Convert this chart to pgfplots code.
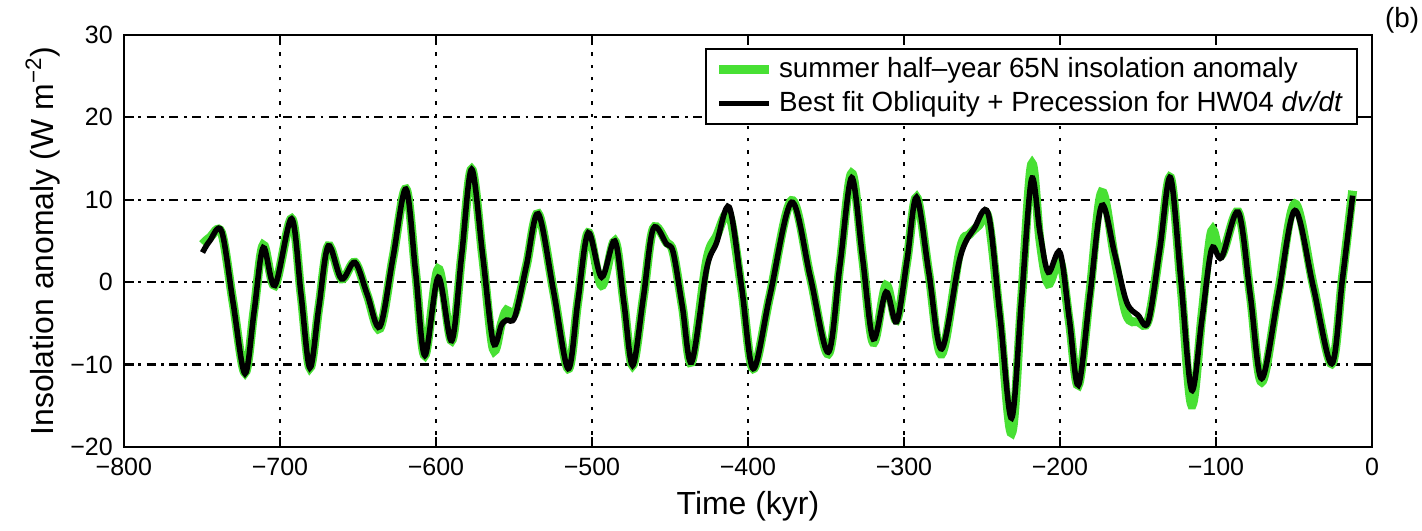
\documentclass[border=0pt]{standalone}
\usepackage{fontspec}
\setmainfont{Liberation Sans}
\usepackage{pgfplots}
\pgfplotsset{compat=1.18}
\definecolor{lgreen}{RGB}{72,224,52}

\pgfplotstableread{
x y
-749.6 4.6
-745.0 5.4
-737.4 6.0
-730.0 -2.5
-722.4 -11.0
-716.5 -3.3
-710.7 4.5
-703.2 -0.4
-692.5 7.7
-686.5 -1.4
-680.8 -10.4
-675.0 -3.0
-669.0 4.4
-660.5 0.4
-651.9 2.4
-644.0 -1.6
-635.9 -5.6
-627.5 3.0
-619.2 11.3
-613.0 1.2
-607.1 -8.9
-598.5 1.6
-589.9 -7.1
-583.5 3.3
-577.1 13.7
-570.0 3.0
-563.3 -8.1
-558.0 -5.0
-554.7 -3.4
-549.4 -3.8
-542.0 2.0
-534.4 8.3
-524.5 -1.2
-515.2 -10.5
-509.0 -2.3
-502.4 6.0
-493.8 -0.4
-485.3 5.0
-479.5 -2.5
-473.9 -10.1
-467.0 -1.8
-460.7 6.5
-452.1 4.8
-447.9 3.6
-442.0 -3.0
-436.1 -9.7
-426.5 2.6
-420.1 5.6
-412.0 8.2
-404.0 -0.9
-396.6 -10.5
-385.9 -1.6
-372.0 9.9
-360.0 0.6
-348.5 -8.7
-341.0 2.1
-333.5 13.2
-326.5 2.9
-319.7 -7.3
-311.5 -0.4
-304.7 -4.6
-298.0 2.7
-291.9 10.3
-284.0 1.0
-275.8 -8.7
-264.0 4.0
-258.0 5.8
-252.0 6.9
-246.0 7.8
-238.5 -4.5
-231.0 -18.3
-224.6 -2.0
-218.2 14.3
-212.8 5.0
-207.5 -0.2
-200.0 2.6
-194.0 -4.8
-188.2 -12.5
-180.8 -1.2
-173.3 10.9
-165.0 3.0
-157.3 -4.0
-150.0 -4.8
-143.4 -4.6
-136.0 4.0
-129.2 12.7
-122.4 -0.5
-115.6 -14.9
-109.0 -4.0
-102.8 6.2
-96.4 3.3
-85.7 8.5
-78.0 -1.6
-70.7 -12.1
-60.0 -1.2
-49.4 9.5
-37.6 -0.4
-25.8 -9.9
-19.0 0.5
-12.4 11.1
}\greentab

\pgfplotstableread{
x y
-749.6 3.6
-745.0 5.0
-737.4 6.2
-730.0 -2.5
-722.4 -11.1
-716.5 -3.5
-710.7 4.2
-703.2 -0.4
-692.5 7.7
-686.5 -1.4
-680.8 -10.4
-675.0 -3.0
-669.0 4.4
-660.5 0.4
-651.9 2.4
-644.0 -1.5
-635.9 -5.4
-627.5 3.0
-619.2 11.3
-613.0 1.2
-607.1 -8.9
-598.5 0.6
-589.9 -7.1
-583.5 3.3
-577.1 13.7
-570.0 3.2
-563.3 -7.3
-558.0 -5.2
-554.7 -4.6
-549.4 -4.2
-542.0 2.0
-534.4 8.3
-524.5 -1.2
-515.2 -10.5
-509.0 -2.3
-502.4 6.0
-493.8 0.6
-485.3 5.0
-479.5 -2.5
-473.9 -10.1
-467.0 -1.8
-460.7 6.5
-452.1 4.6
-447.9 3.6
-442.0 -3.0
-436.1 -9.7
-426.5 1.6
-420.1 4.8
-412.0 9.1
-404.0 -0.7
-396.6 -10.5
-385.9 -1.6
-372.0 9.7
-360.0 0.6
-348.5 -8.5
-341.0 2.1
-333.5 12.7
-326.5 2.9
-319.7 -6.9
-311.5 -1.2
-304.7 -4.8
-298.0 2.7
-291.9 10.3
-284.0 1.1
-275.8 -8.1
-264.0 3.0
-255.0 6.5
-246.0 8.3
-238.5 -4.0
-231.0 -16.5
-224.6 -2.0
-218.2 12.5
-212.8 6.0
-207.5 1.2
-200.0 3.6
-194.0 -4.5
-188.2 -12.5
-180.8 -1.6
-173.3 9.3
-165.0 3.5
-157.3 -2.4
-150.0 -4.0
-143.4 -4.8
-136.0 4.0
-129.2 12.7
-122.4 0.0
-115.6 -13.1
-109.0 -4.5
-102.8 4.0
-96.4 3.0
-85.7 8.5
-78.0 -1.6
-70.7 -11.7
-60.0 -1.5
-49.4 8.7
-37.6 -0.6
-25.8 -9.9
-19.0 0.3
-12.4 10.5
}\blacktab

\begin{document}
\begin{tikzpicture}
\begin{axis}[
  name=ax,
  scale only axis,
  width=449.3pt, height=148.3pt,
  xmin=-800, xmax=0, ymin=-20, ymax=30,
  xtick={-800,-700,-600,-500,-400,-300,-200,-100,0},
  xticklabels={−800,−700,−600,−500,−400,−300,−200,−100,0},
  ytick={-20,-10,0,10,20,30},
  yticklabels={−20,−10,0,10,20,30},
  tick align=inside,
  major tick length=3.6pt,
  axis line style={line width=0.8pt},
  tick style={black, line width=0.8pt},
  grid=major,
  x grid style={black, line width=0.8pt, dash pattern=on 1.2pt off 3.2pt},
  y grid style={black, line width=0.8pt, dash pattern=on 3.2pt off 2pt on 1pt off 2pt},
  ticklabel style={font=\fontsize{9}{11}\selectfont},
  xticklabel style={yshift=-0.5pt},
  yticklabel style={xshift=-0.5pt},
  xlabel={Time (kyr)},
  ylabel={Insolation anomaly (W m\textsuperscript{−2})},
  xlabel style={at={(rel axis cs:0.5,0)}, anchor=center, yshift=-21.2pt, font=\fontsize{11.5}{13}\selectfont},
  ylabel style={at={(rel axis cs:0,0.5)}, anchor=center, yshift=29.2pt, font=\fontsize{11.5}{13}\selectfont},
  legend style={at={(0.9885,0.968)}, anchor=north east, draw=black, line width=0.7pt,
    font=\fontsize{10}{11.5}\selectfont, inner xsep=3pt, inner ysep=1pt, row sep=-0.5pt,
    cells={anchor=west}},
  legend image code/.code={\draw[#1] (0pt,0pt) -- (18pt,0pt);},
  legend cell align=left,
]
\addplot[lgreen, line width=3.2pt, smooth, tension=0.55] table[x=x,y=y] {\greentab};
\addlegendentry{summer half--year 65N insolation anomaly}
\addplot[black, line width=2.0pt, smooth, tension=0.55] table[x=x,y=y] {\blacktab};
\addlegendentry{Best fit Obliquity + Precession for HW04 \textit{dv/dt}}
\end{axis}
\node[anchor=west, inner xsep=1pt, font=\fontsize{10}{12}\selectfont] at ([xshift=3.5pt,yshift=5.2pt]ax.north east) {(b)};
\pgfresetboundingbox
\path ([xshift=-44.6pt,yshift=-30.2pt]ax.south west) rectangle ([xshift=18pt,yshift=12.6pt]ax.north east);
\end{tikzpicture}
\end{document}
